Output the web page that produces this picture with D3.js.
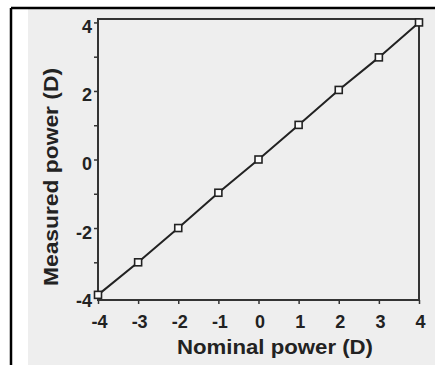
<!DOCTYPE html>
<html lang="en">
<head>
<meta charset="utf-8" />
<title>Measured vs nominal power</title>
<script src="https://cdn.jsdelivr.net/npm/d3@7"></script>
<style>
  body { margin: 0; background: #fff; }
  svg text { font-family: "Liberation Sans", Arial, sans-serif; font-weight: bold; fill: #222; }
</style>
</head>
<body>
<script>
// nominal power (D) and measured power (D)
var nominal = [-4, -3, -2, -1, 0, 1, 2, 3, 4];
var measured = [-3.95, -3.0, -2.0, -0.97, 0, 1.01, 2.03, 2.98, 4.0];
var xTicks = [-4, -3, -2, -1, 0, 1, 2, 3, 4];
var yTicks = [-4, -3, -2, -1, 0, 1, 2, 3, 4];
var yLabelTicks = [-4, -2, 0, 2, 4];

var w = 435, h = 365;
var svg = d3.select("body").append("svg").attr("width", w).attr("height", h);

// scanned page frame
svg.append("rect").attr("x", 28).attr("y", 9).attr("width", w - 28).attr("height", h - 9).attr("fill", "#eeeeee");
svg.append("line").attr("x1", 11).attr("x2", w).attr("y1", 8).attr("y2", 8).attr("stroke", "#000").attr("stroke-width", 2.5);
svg.append("line").attr("x1", 11).attr("x2", 11).attr("y1", 8).attr("y2", h).attr("stroke", "#000").attr("stroke-width", 2.5);

var pLeft = 98, pRight = 419, pTop = 19, pBottom = 300;
var x = d3.scaleLinear().domain([-4, 4]).range([pLeft, pRight]);
var y = d3.scaleLinear().domain([-4.1, 4.1]).range([pBottom, pTop]);

// plot box
svg.append("rect").attr("x", pLeft).attr("y", pTop).attr("width", pRight - pLeft).attr("height", pBottom - pTop)
  .attr("fill", "none").attr("stroke", "#333").attr("stroke-width", 2);

var xAxis = svg.append("g").attr("transform", "translate(0," + pBottom + ")")
  .call(d3.axisBottom(x).tickValues(xTicks).tickSize(4).tickSizeOuter(0).tickFormat(function(d) { return String(d); }));
xAxis.select(".domain").remove();
xAxis.selectAll("line").attr("stroke", "#333").attr("stroke-width", 1.5);
xAxis.selectAll("text").attr("font-size", 18).attr("font-family", null).attr("y", 28).attr("dy", 0).attr("dx", 1);

var yAxis = svg.append("g").attr("transform", "translate(" + pLeft + ",0)")
  .call(d3.axisLeft(y).tickValues(yTicks).tickSize(4).tickSizeOuter(0)
    .tickFormat(function(d) { return yLabelTicks.indexOf(d) >= 0 ? String(d) : ""; }));
yAxis.select(".domain").remove();
yAxis.selectAll("line").attr("stroke", "#333").attr("stroke-width", 1.5);
yAxis.selectAll("text").attr("font-size", 18).attr("font-family", null).attr("x", -6).attr("dy", 0).attr("y", 10);

// data line and markers
var line = d3.line().x(function(d, i) { return x(nominal[i]); }).y(function(d) { return y(d); });
svg.append("path").datum(measured).attr("d", line).attr("fill", "none").attr("stroke", "#222").attr("stroke-width", 2);

svg.selectAll("rect.pt").data(measured).enter().append("rect").attr("class", "pt")
  .attr("x", function(d, i) { return x(nominal[i]) - 3.5; })
  .attr("y", function(d) { return y(d) - 3.5; })
  .attr("width", 7).attr("height", 7)
  .attr("fill", "#fafafa").attr("stroke", "#222").attr("stroke-width", 1.6);

// axis titles
svg.append("text").attr("x", 275).attr("y", 354).attr("text-anchor", "middle")
  .attr("font-size", 20).attr("textLength", 196).attr("lengthAdjust", "spacingAndGlyphs").text("Nominal power (D)");
svg.append("text").attr("transform", "translate(58,177) rotate(-90)").attr("text-anchor", "middle")
  .attr("font-size", 20).attr("textLength", 218).attr("lengthAdjust", "spacingAndGlyphs").text("Measured power (D)");
</script>
</body>
</html>
